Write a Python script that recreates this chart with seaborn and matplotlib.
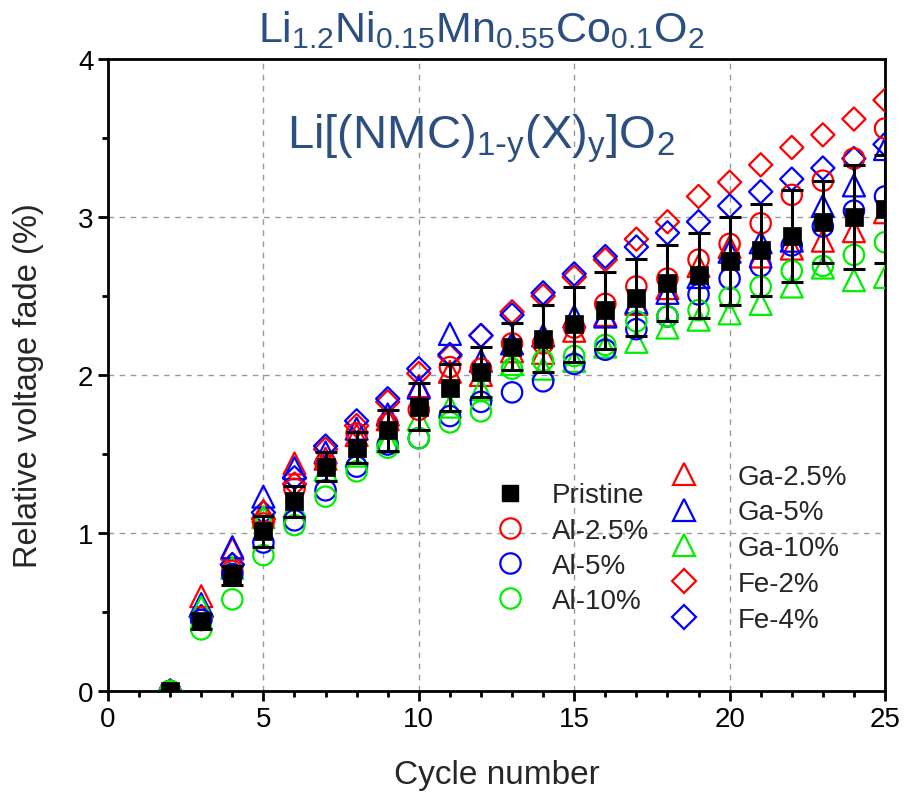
import numpy as np
import matplotlib
matplotlib.use("Agg")
import matplotlib.pyplot as plt
from matplotlib.ticker import MultipleLocator
import seaborn as sns

# cycle numbers
cycles = list(range(2, 26))

# relative voltage fade (%)
pristine = [0, 0.44, 0.73, 1.01, 1.20, 1.42, 1.54, 1.65, 1.80, 1.92, 2.02, 2.18,
            2.23, 2.32, 2.41, 2.49, 2.58, 2.63, 2.72, 2.79, 2.88, 2.97, 3.00, 3.05]
pristine_err = [0, 0.05, 0.06, 0.10, 0.10, 0.09, 0.10, 0.13, 0.15, 0.15, 0.16, 0.15,
                0.21, 0.24, 0.245, 0.245, 0.24, 0.27, 0.28, 0.29, 0.29, 0.26, 0.33, 0.34]
al_25 = [0, 0.45, 0.76, 1.06, 1.28, 1.44, 1.63, 1.69, 1.78, 2.05, 2.04, 2.20,
         2.20, 2.30, 2.45, 2.56, 2.61, 2.73, 2.83, 2.96, 3.14, 3.23, 3.37, 3.56]
al_5 = [0, 0.45, 0.74, 0.94, 1.08, 1.27, 1.42, 1.56, 1.60, 1.74, 1.83, 1.89,
        1.96, 2.07, 2.16, 2.29, 2.37, 2.51, 2.61, 2.69, 2.82, 2.94, 3.04, 3.13]
al_10 = [0, 0.39, 0.58, 0.86, 1.05, 1.23, 1.39, 1.54, 1.60, 1.70, 1.77, 2.04,
         2.09, 2.12, 2.19, 2.34, 2.37, 2.41, 2.49, 2.56, 2.66, 2.69, 2.76, 2.84]
ga_25 = [0, 0.60, 0.90, 1.14, 1.44, 1.47, 1.62, 1.72, 1.93, 2.02, 2.00, 2.15,
         2.14, 2.28, 2.38, 2.45, 2.55, 2.69, 2.81, 2.75, 2.80, 2.85, 2.91, 3.03]
ga_5 = [0, 0.55, 0.91, 1.23, 1.41, 1.51, 1.66, 1.75, 1.92, 2.26, 2.09, 2.20,
        2.25, 2.37, 2.37, 2.46, 2.52, 2.62, 2.78, 2.84, 2.85, 3.07, 3.20, 3.43]
ga_10 = [0, 0.53, 0.78, 1.10, 1.17, 1.40, 1.49, 1.58, 1.72, 1.80, 1.91, 2.07,
         2.04, 2.09, 2.18, 2.21, 2.30, 2.35, 2.39, 2.45, 2.56, 2.68, 2.60, 2.62]
fe_2 = [0, 0.47, 0.80, 1.09, 1.31, 1.53, 1.68, 1.83, 2.01, 2.12, 2.25, 2.40,
        2.50, 2.62, 2.73, 2.86, 2.97, 3.13, 3.22, 3.33, 3.44, 3.52, 3.62, 3.74]
fe_4 = [0, 0.47, 0.80, 1.13, 1.35, 1.55, 1.71, 1.85, 2.04, 2.13, 2.25, 2.38,
        2.52, 2.64, 2.75, 2.81, 2.90, 2.97, 3.07, 3.16, 3.24, 3.31, 3.37, 3.46]

left_labels = ['Pristine', 'Al-2.5%', 'Al-5%', 'Al-10%']
right_labels = ['Ga-2.5%', 'Ga-5%', 'Ga-10%', 'Fe-2%', 'Fe-4%']

sns.set_theme(style='ticks')
plt.rcParams['font.family'] = ['Liberation Sans', 'DejaVu Sans']
plt.rcParams['mathtext.default'] = 'regular'

RED, BLUE, GREEN = '#ff0000', '#0000ff', '#00ee00'
TITLE_BLUE = '#2b4f81'

fig = plt.figure(figsize=(9.06, 8.04), dpi=100)
ax = fig.add_axes([108 / 906, 112 / 804, 777 / 906, 632 / 804])

series = [
    (fe_2, RED, 'D', 140, 'Fe-2%'),
    (fe_4, BLUE, 'D', 140, 'Fe-4%'),
    (ga_25, RED, '^', 250, 'Ga-2.5%'),
    (ga_5, BLUE, '^', 250, 'Ga-5%'),
    (ga_10, GREEN, '^', 250, 'Ga-10%'),
    (al_25, RED, 'o', 215, 'Al-2.5%'),
    (al_5, BLUE, 'o', 215, 'Al-5%'),
    (al_10, GREEN, 'o', 215, 'Al-10%'),
]
handles = {}
for vals, col, mk, size, lab in series:
    sns.scatterplot(x=cycles, y=vals, ax=ax, marker=mk, s=size, color=col,
                    facecolor='none', edgecolor=col, linewidth=1.6, zorder=3)
    handles[lab] = plt.Line2D([0], [0], marker=mk, ls='none', mfc='none', mec=col,
                              mew=1.6, ms=np.sqrt(size))

ax.errorbar(cycles, pristine, yerr=pristine_err, fmt='none', ecolor='black',
            elinewidth=2.2, capsize=8, capthick=2.2, zorder=4)
sns.scatterplot(x=cycles, y=pristine, ax=ax, marker='s', s=150, color='black',
                edgecolor='black', linewidth=0.5, zorder=5)
handles['Pristine'] = plt.Line2D([0], [0], marker='s', ls='none', mfc='black',
                                 mec='black', ms=12)

ax.set_xlim(0, 25)
ax.set_ylim(0, 4)
ax.xaxis.set_major_locator(MultipleLocator(5))
ax.xaxis.set_minor_locator(MultipleLocator(1))
ax.yaxis.set_major_locator(MultipleLocator(1))
ax.yaxis.set_minor_locator(MultipleLocator(0.5))
ax.tick_params(which='major', length=7, width=2, labelsize=20, color='black',
               labelcolor='black', direction='out')
ax.tick_params(which='minor', length=4, width=2, direction='out', color='black')
for sp in ax.spines.values():
    sp.set_visible(True)
    sp.set_linewidth(2)
    sp.set_color('black')
ax.grid(True, which='major', ls=(0, (4, 4)), color='#999999', lw=1)
ax.set_facecolor('white')

ax.set_xlabel('Cycle number', fontsize=24, labelpad=20)
ax.set_ylabel('Relative voltage fade (%)', fontsize=23.5)
ax.yaxis.set_label_coords(-0.082, 0.485)

fig.text(0.531, 0.962, r'Li$_{1.2}$Ni$_{0.15}$Mn$_{0.55}$Co$_{0.1}$O$_2$',
         ha='center', va='center', fontsize=31, color=TITLE_BLUE)
ax.text(0.48, 0.876, r'Li[(NMC)$_{1\text{-}y}$(X)$_y$]O$_2$', transform=ax.transAxes,
        ha='center', va='center', fontsize=34, color=TITLE_BLUE)

leg1 = ax.legend([handles[l] for l in left_labels], left_labels, loc='center left',
                 bbox_to_anchor=(0.4994, 0.226), frameon=False, fontsize=20,
                 handlelength=1, handletextpad=1.01, labelspacing=0.33,
                 borderpad=0, borderaxespad=0)
ax.add_artist(leg1)
ax.legend([handles[l] for l in right_labels], right_labels, loc='center left',
          bbox_to_anchor=(0.7235, 0.226), frameon=False, fontsize=20,
          handlelength=1, handletextpad=1.445, labelspacing=0.35,
          borderpad=0, borderaxespad=0)

fig.savefig('out.png', dpi=100)
